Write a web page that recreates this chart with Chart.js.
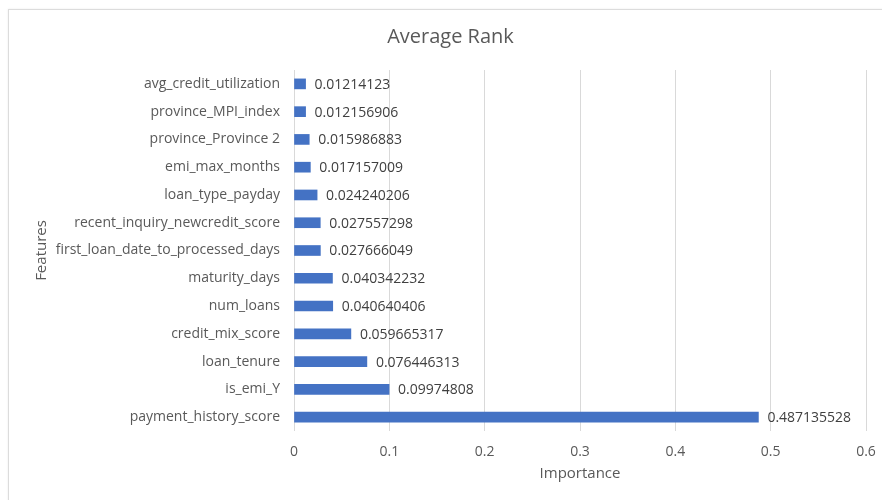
<!DOCTYPE html>
<html>
<head>
<meta charset="utf-8">
<script src="https://cdn.jsdelivr.net/npm/chart.js@4/dist/chart.umd.min.js"></script>
<style>
    html, body { margin: 0; padding: 0; background: #fff; }
    #wrap { position: relative; width: 882px; height: 500px; overflow: hidden; }
    #frame {
        position: absolute; left: 8px; top: 9px; width: 900px; height: 520px;
        border: 1px solid #dcdcdc; box-shadow: 0 0 2px rgba(0,0,0,0.08);
    }
    #chart { position: absolute; left: 0; top: 0; }
</style>
</head>
<body>
<div id="wrap">
    <div id="frame"></div>
    <canvas id="chart" width="882" height="500"></canvas>
</div>
<script>
// 특성 이름 (위에서 아래 순서)
const features = [
    'avg_credit_utilization',
    'province_MPI_index',
    'province_Province 2',
    'emi_max_months',
    'loan_type_payday',
    'recent_inquiry_newcredit_score',
    'first_loan_date_to_processed_days',
    'maturity_days',
    'num_loans',
    'credit_mix_score',
    'loan_tenure',
    'is_emi_Y',
    'payment_history_score'
];

// 중요도 값
const importance = [
    0.01214123,
    0.012156906,
    0.015986883,
    0.017157009,
    0.024240206,
    0.027557298,
    0.027666049,
    0.040342232,
    0.040640406,
    0.059665317,
    0.076446313,
    0.09974808,
    0.487135528
];

// x축 범위
const xMin = 0;
const xMax = 0.6;
const xStep = 0.1;

const textColor = '#595959';
const gridColor = '#d9d9d9';
const barColor = '#4472C4';

Chart.defaults.font.family = "'Open Sans', sans-serif";
Chart.defaults.font.size = 14;
Chart.defaults.color = textColor;

// 막대 끝에 값 표시
const valueLabels = {
    id: 'valueLabels',
    afterDatasetsDraw(chart) {
        const ctx = chart.ctx;
        const meta = chart.getDatasetMeta(0);
        ctx.save();
        ctx.font = "14px 'Open Sans', sans-serif";
        ctx.fillStyle = '#404040';
        ctx.textAlign = 'left';
        ctx.textBaseline = 'middle';
        meta.data.forEach((bar, i) => {
            ctx.fillText(String(importance[i]), bar.x + 9, bar.y + 1);
        });
        ctx.restore();
    }
};

new Chart(document.getElementById('chart'), {
    type: 'bar',
    data: {
        labels: features,
        datasets: [{
            data: importance,
            backgroundColor: barColor,
            barThickness: 10
        }]
    },
    options: {
        indexAxis: 'y',
        responsive: false,
        animation: false,
        layout: { padding: { left: 35, right: 16, top: 0, bottom: 0 } },
        plugins: {
            legend: { display: false },
            tooltip: { enabled: false },
            title: {
                display: true,
                text: 'Average Rank',
                color: textColor,
                font: { size: 20, weight: 'normal' },
                padding: { top: 25, bottom: 21 }
            }
        },
        scales: {
            x: {
                min: xMin,
                max: xMax,
                border: { display: false },
                grid: { color: gridColor, drawTicks: false },
                ticks: { stepSize: xStep, padding: 13, color: textColor },
                title: {
                    display: true,
                    text: 'Importance',
                    color: textColor,
                    font: { size: 15 },
                    padding: { top: 0, bottom: 17 }
                },
                afterFit(scale) {
                    scale.height = 69;
                    scale.paddingLeft = 0;
                    scale.paddingRight = 0;
                }
            },
            y: {
                border: { display: false },
                grid: { display: false, drawTicks: false },
                ticks: { padding: 14, color: textColor },
                title: {
                    display: true,
                    text: 'Features',
                    color: textColor,
                    font: { size: 15 },
                    padding: { top: -2, bottom: 0 }
                },
                afterFit(scale) { scale.width = 259; }
            }
        }
    },
    plugins: [valueLabels]
});
</script>
</body>
</html>
